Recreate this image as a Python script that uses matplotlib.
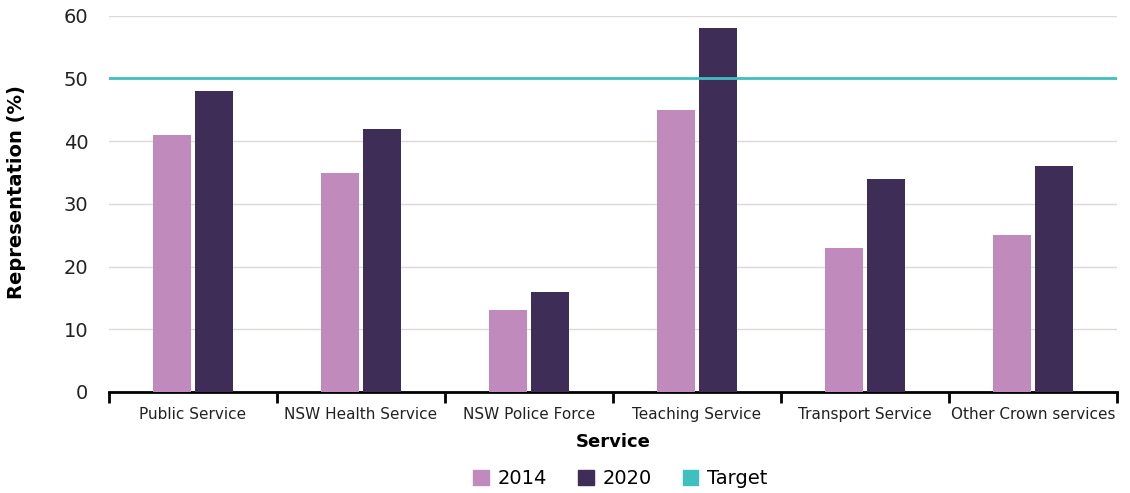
import numpy as np
import matplotlib.pyplot as plt
from matplotlib.patches import Patch

services = ["Public Service", "NSW Health Service", "NSW Police Force",
            "Teaching Service", "Transport Service", "Other Crown services"]
rep_2014 = [41, 35, 13, 45, 23, 25]
rep_2020 = [48, 42, 16, 58, 34, 36]
target = 50

c2014 = "#C08ABD"
c2020 = "#3E2D56"
ctarget = "#40BFBF"

plt.rcParams['font.family'] = ['DejaVu Sans']

fig = plt.figure(figsize=(11.3, 4.93), dpi=100)
ax = fig.add_axes([0.0965, 0.205, 0.892, 0.763])

x = np.arange(len(services))
w = 0.225
ax.bar(x - 0.125, rep_2014, width=w, color=c2014, zorder=3)
ax.bar(x + 0.125, rep_2020, width=w, color=c2020, zorder=3)
ax.axhline(target, color=ctarget, lw=2, zorder=4)

ax.set_xlim(-0.5, len(services) - 0.5)
ax.set_ylim(0, 60)
ax.set_yticks(range(0, 61, 10))
ax.yaxis.grid(True, color="#DDDAD6", lw=1)
ax.set_axisbelow(True)
ax.tick_params(axis='y', length=0, pad=15, labelsize=14, labelcolor="#222222")

# boundary ticks as major, names on minor ticks at bar-group centres
ax.set_xticks(np.arange(-0.5, len(services), 1.0))
ax.set_xticklabels([])
ax.tick_params(axis='x', which='major', length=8, width=2, color='black', direction='out')
ax.set_xticks(x, minor=True)
ax.set_xticklabels(services, minor=True, fontsize=11, color="#222222")
ax.tick_params(axis='x', which='minor', length=0, pad=11)

for s in ['top', 'right', 'left']:
    ax.spines[s].set_visible(False)
ax.spines['bottom'].set_linewidth(2)

ax.set_ylabel("Representation (%)", fontsize=14, fontweight='bold')
ax.yaxis.set_label_coords(-0.082, 0.532)
ax.set_xlabel("Service", fontsize=13, fontweight='bold', labelpad=8)

handles = [Patch(color=c2014, label="2014"), Patch(color=c2020, label="2020"),
           Patch(color=ctarget, label="Target")]
fig.legend(handles=handles, loc='lower center', bbox_to_anchor=(0.549, -0.025), ncol=3,
           frameon=False, fontsize=14, handlelength=0.8, handleheight=0.8,
           handletextpad=0.45, columnspacing=1.6)

fig.savefig("out.png", dpi=100)
